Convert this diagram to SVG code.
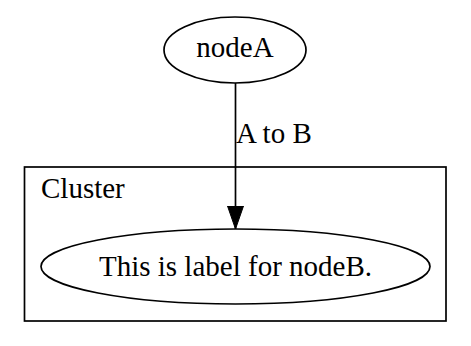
<svg xmlns="http://www.w3.org/2000/svg" width="471" height="346" viewBox="0 0 471 346">
  <style>
    .shape { fill: none; stroke: #000; stroke-width: 1.7; }
    .lbl { font-family: "Liberation Serif", "Times New Roman", serif; font-size: 29px; fill: #000; }
    .edge { stroke: #000; stroke-width: 1.7; fill: none; }
  </style>
  <defs>
    <marker id="arrow" markerUnits="userSpaceOnUse" markerWidth="24" markerHeight="18" refX="23" refY="8" orient="auto">
      <polygon points="0,0 23,8 0,16" fill="#000" stroke="#000" stroke-width="1"/>
    </marker>
  </defs>
  <rect width="471" height="346" fill="#fff"/>

  <g id="cluster">
    <rect class="shape" x="24.5" y="167" width="421.5" height="154"/>
    <text class="lbl" x="41" y="198">Cluster</text>
  </g>

  <g id="nodeA">
    <ellipse class="shape" cx="235" cy="50" rx="71" ry="33"/>
    <text class="lbl" x="235" y="57" text-anchor="middle">nodeA</text>
  </g>

  <g id="nodeB">
    <ellipse class="shape" cx="235.5" cy="266.5" rx="194.5" ry="37.5"/>
    <text class="lbl" x="235.5" y="276" text-anchor="middle">This is label for nodeB.</text>
  </g>

  <g id="edges">
    <path class="edge" d="M235.5,83 L235.5,229" marker-end="url(#arrow)"/>
    <text class="lbl" x="236" y="143">A to B</text>
  </g>
</svg>
